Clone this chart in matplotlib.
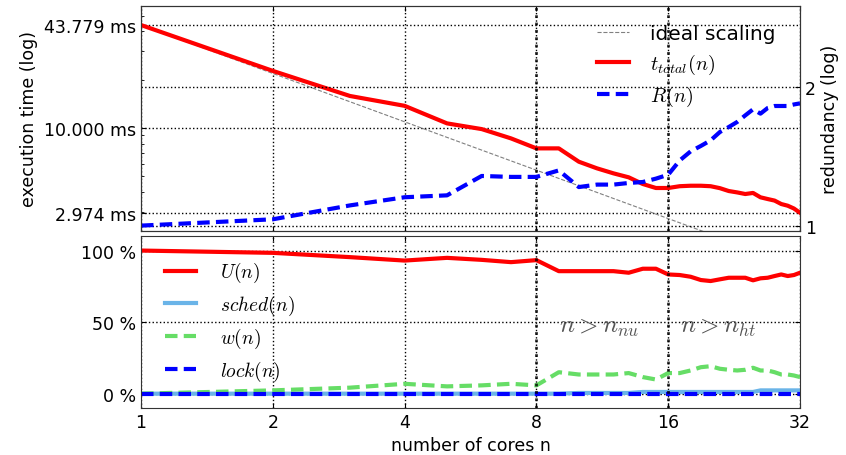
import numpy as np
import matplotlib
matplotlib.use("Agg")
import matplotlib.pyplot as plt
from matplotlib.ticker import FixedLocator, NullLocator, FixedFormatter

plt.rcParams['mathtext.fontset'] = 'cm'
plt.rcParams['font.size'] = 12.5

n = np.arange(1, 33)

t_total = [43.779, 22.7, 15.85, 13.76, 10.7, 9.86, 8.63, 7.48, 7.48, 6.18,
           5.62, 5.23, 4.94, 4.49, 4.24, 4.24, 4.35, 4.38, 4.38, 4.35,
           4.23, 4.06, 3.98, 3.89, 3.95, 3.71, 3.62, 3.54, 3.37, 3.29,
           3.16, 2.974]
R = [1.0, 1.032, 1.106, 1.152, 1.163, 1.281, 1.275, 1.275, 1.317, 1.212,
     1.227, 1.227, 1.237, 1.243, 1.264, 1.289, 1.384, 1.448, 1.488, 1.53,
     1.595, 1.635, 1.677, 1.733, 1.786, 1.748, 1.798, 1.816, 1.816, 1.816,
     1.83, 1.84]
U = [100, 98.4, 95.4, 93.0, 94.9, 93.5, 91.9, 93.3, 85.6, 85.6,
     85.6, 85.6, 84.5, 87.3, 87.3, 83.3, 82.9, 81.7, 79.4, 78.7,
     79.9, 81.0, 81.0, 81.0, 79.2, 80.6, 81.0, 82.2, 83.3, 82.2,
     82.9, 84.5]
sched = [0, 0, 0, 0, 0, 0, 0, 0, 0, 0.5,
         0.5, 0.5, 0.5, 1.2, 1.2, 1.2, 1.2, 1.2, 1.2, 1.2,
         1.2, 1.2, 1.2, 1.2, 1.2, 2.3, 2.3, 2.3, 2.3, 2.3,
         2.3, 2.3]
w = [0, 2.3, 4.2, 6.9, 5.1, 5.8, 6.9, 5.8, 15.0, 13.4,
     13.4, 13.4, 14.4, 11.6, 9.9, 14.4, 14.4, 16.2, 18.5, 19.2,
     17.4, 16.7, 16.2, 16.7, 18.1, 16.2, 16.2, 15.0, 13.4, 13.4,
     12.7, 11.6]
lock = [0] * 32

ideal = t_total[0] / n

fig, (ax1, ax3) = plt.subplots(2, 1, sharex=True, figsize=(8.46, 4.56), dpi=100,
                               gridspec_kw={'height_ratios': [225, 172]})
fig.subplots_adjust(left=0.1667, right=0.9456, top=0.9846, bottom=0.1031, hspace=0.028)

# top panel: execution time
l_ideal, = ax1.plot(n, ideal, color='gray', ls='--', lw=0.8, label='ideal scaling')
l_t, = ax1.plot(n, t_total, color='red', lw=3, label='$t_{total}(n)$')
ax1.set_yscale('log')
ax1.set_ylim(2.30, 57.5)
ax1.yaxis.set_major_locator(FixedLocator([2.974, 10.0, 43.779]))
ax1.yaxis.set_major_formatter(FixedFormatter(['%.3f ms' % v for v in [2.974, 10.0, 43.779]]))
ax1.set_ylabel('execution time (log)')
ax1.grid(True, color='k', ls=':', lw=1)

ax2 = ax1.twinx()
l_R, = ax2.plot(n, R, color='blue', ls='--', lw=3, dashes=(3, 1.5), label='$R(n)$')
ax2.set_yscale('log')
ax2.set_ylim(0.975, 2.99)
ax2.yaxis.set_major_locator(FixedLocator([1, 2]))
ax2.yaxis.set_major_formatter(FixedFormatter(['1', '2']))
ax2.yaxis.set_minor_locator(NullLocator())
ax2.set_ylabel('redundancy (log)')
ax2.grid(True, axis='y', color='k', ls=':', lw=1)
ax2.legend(handles=[l_ideal, l_t, l_R], loc='upper right', frameon=False,
           fontsize=14.5, labelspacing=0.42, handlelength=1.6, handletextpad=1.05,
           bbox_to_anchor=(0.975, 0.955), borderaxespad=0.0)

# bottom panel: utilisation
ax3.plot(n, U, color='red', lw=3, label='$U(n)$')
ax3.plot(n, sched, color='#6ab4e8', lw=3, label='$sched(n)$')
ax3.plot(n, w, color='#66dd66', ls='--', lw=3, dashes=(3, 1.5), label='$w(n)$')
ax3.plot(n, lock, color='blue', ls='--', lw=3, dashes=(3, 1.5), label='$lock(n)$')
ax3.set_ylim(-10, 110)
ax3.set_yticks([0, 50, 100])
ax3.set_yticklabels(['0 %', '50 %', '100 %'])
ax3.grid(True, color='k', ls=':', lw=1)
ax3.legend(loc='upper left', frameon=False, fontsize=14, labelspacing=0.45,
           handlelength=1.6, handletextpad=1.2, borderaxespad=0.0,
           bbox_to_anchor=(0.025, 0.905))
ax3.text(9, 47, '$n > n_{nu}$', color='#555555', fontsize=18, va='center', ha='left')
ax3.text(17, 47, '$n > n_{ht}$', color='#555555', fontsize=18, va='center', ha='left')

ax3.set_xscale('log', base=2)
ax3.set_xlim(1, 32)
ax3.xaxis.set_major_locator(FixedLocator([1, 2, 4, 8, 16, 32]))
ax3.xaxis.set_major_formatter(FixedFormatter(['1', '2', '4', '8', '16', '32']))
ax3.xaxis.set_minor_locator(NullLocator())
ax3.set_xlabel('number of cores n')

for ax in (ax1, ax3):
    ax.axvline(8, color='k', ls=':', lw=2, alpha=0.8)
    ax.axvline(16, color='k', ls=':', lw=2, alpha=0.8)

for ax in (ax1, ax2, ax3):
    ax.tick_params(direction='in', which='both')
    for s in ax.spines.values():
        s.set_color('#333333')
ax1.tick_params(top=True, which='both')
ax3.tick_params(top=True, right=True, which='both')
ax1.tick_params(axis='x', labelbottom=False)

fig.savefig('out.png', dpi=100)
